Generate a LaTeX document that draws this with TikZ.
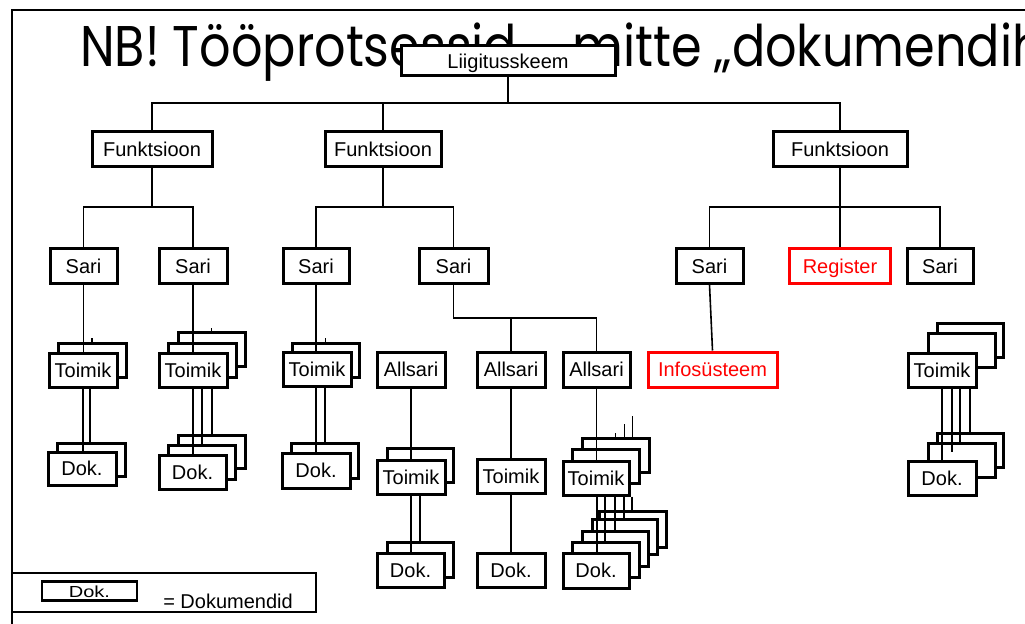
\documentclass[tikz,border=0pt]{standalone}
\usepackage{fontspec}
\usepackage{graphicx}
\setmainfont{Liberation Sans}
\newfontfamily\titlefont[FakeStretch=0.86]{Poppins}
\newlength{\px}\setlength{\px}{0.75pt}
\tikzset{
  bx/.style={draw=black, fill=white, line width=3\px, inner sep=0pt,
    font=\fontsize{15}{18}\selectfont, text height=10.7pt, text depth=0pt},
  rbx/.style={bx, draw=red, text=red},
  ln/.style={line width=1.6\px, draw=black},
  ttl/.style={anchor=base west, inner sep=0pt, font=\titlefont\fontsize{43}{50}\selectfont},
}
\newcommand\bx[6]{\node[bx, minimum width=#4\px, minimum height=#5\px] (#1) at (#2,#3) {#6};}
\newcommand\rx[6]{\node[rbx, minimum width=#4\px, minimum height=#5\px] (#1) at (#2,#3) {#6};}
\begin{document}
\begin{tikzpicture}[x=0.75pt,y=-0.75pt]
\useasboundingbox (0,0) rectangle (1025,624);
\clip (0,0) rectangle (1025,624);
% slide frame and title
\draw[line width=2\px] (12,624) -- (12,10) -- (1025,10);
\node[ttl] (title1) at (80,67) {NB! Tööprotsessid,};
\node[ttl] (title2) at (572,67) {mitte „dokumendihaldus”};
% legend
\draw[line width=1.5\px] (12,573) rectangle (316,612);
\node[bx, line width=2.6\px, minimum width=95\px, minimum height=19\px, text height=9.6pt] (leg) at (89.5,591) {\scalebox{1}[0.8]{Dok.}};
\node[anchor=base west, inner sep=0pt, font=\fontsize{15}{18}\selectfont] (legt) at (163,608) {= Dokumendid};
% top levels
\bx{liig}{508}{61}{214}{30}{Liigitusskeem}
\bx{f1}{152}{149.5}{120}{35}{Funktsioon}
\bx{f2}{383}{149.5}{116}{35}{Funktsioon}
\bx{f3}{840}{149.5}{134}{35}{Funktsioon}
\bx{s1}{83.5}{266}{67}{34}{Sari}
\bx{s2}{193}{266}{68}{34}{Sari}
\bx{s3}{316}{266}{66}{34}{Sari}
\bx{s4}{453.5}{266}{69}{34}{Sari}
\bx{s5}{709.5}{266}{67}{34}{Sari}
\rx{reg}{840}{266}{101}{34}{Register}
\bx{s6}{940}{266}{66}{34}{Sari}
\bx{a1}{411}{369.5}{68}{35}{Allsari}
\bx{a2}{511}{369.5}{68}{35}{Allsari}
\bx{a3}{596.5}{369.5}{67}{35}{Allsari}
\rx{info}{712.5}{369.5}{129}{35}{Infosüsteem}
% Toimik stacks
\bx{tA1}{92}{360.5}{68}{34}{}
\bx{tA0}{83}{370}{68}{34}{Toimik}
\bx{tB2}{211.5}{349.5}{67}{34}{}
\bx{tB1}{202}{360.5}{68}{34}{}
\bx{tB0}{193}{370}{68}{34}{Toimik}
\bx{tC1}{325.5}{360}{67}{34}{}
\bx{tC0}{317}{369.5}{68}{34}{Toimik}
\bx{tF2}{970}{340.5}{66}{34}{}
\bx{tF1}{961.5}{350.5}{67}{34}{}
\bx{tF0}{942}{370}{68}{34}{Toimik}
\bx{tD1}{420}{465.5}{66}{34}{}
\bx{tD0}{411}{477}{68}{34}{Toimik}
\bx{tG}{511}{476.5}{68}{34}{Toimik}
\bx{tE2}{615.5}{455}{67}{34}{}
\bx{tE1}{605.5}{466}{67}{34}{}
\bx{tE0}{596}{478}{66}{34}{Toimik}
% Dok stacks
\bx{dA1}{91}{459.5}{68}{33}{}
\bx{dA0}{82}{468.5}{68}{33}{Dok.}
\bx{dB2}{211.5}{451.5}{67}{33}{}
\bx{dB1}{201.5}{462.5}{67}{34}{}
\bx{dB0}{192.5}{472.5}{67}{34}{Dok.}
\bx{dC1}{324.5}{461}{67}{35}{}
\bx{dC0}{316}{470.5}{68}{35}{Dok.}
\bx{dF2}{970}{450}{66}{34}{}
\bx{dF1}{961.5}{460}{67}{34}{}
\bx{dF0}{942}{478}{68}{34}{Dok.}
\bx{dD1}{420}{559.5}{66}{35}{}
\bx{dD0}{410.5}{570}{67}{34}{Dok.}
\bx{dG}{511}{570}{68}{34}{Dok.}
\bx{dE4}{632.5}{529}{67}{36}{}
\bx{dE3}{624.5}{536.5}{65}{35}{}
\bx{dE2}{615}{548.5}{66}{35}{}
\bx{dE1}{605.5}{559.5}{67}{35}{}
\bx{dE0}{596}{570.5}{66}{35}{Dok.}
% connectors: upper tree
\coordinate (b1) at (508,103);
\draw[ln] (liig.south) -- (b1);
\draw[ln] (f1.north) |- (b1) -| (f3.north);
\draw[ln] (f2.north) -- (f2.north |- b1);
\coordinate (b2) at (152,207);
\draw[ln] (f1.south) -- (b2);
\draw[ln] (s1.north) |- (b2) -| (s2.north);
\coordinate (b3) at (383,207);
\draw[ln] (f2.south) -- (b3);
\draw[ln] (s3.north) |- (b3) -| (s4.north);
\coordinate (b4) at (840,207);
\draw[ln] (f3.south) -- (b4);
\draw[ln] (s5.north) |- (b4) -| (s6.north);
\draw[ln] (b4) -- (reg.north);
\coordinate (b5) at (511,318);
\draw[ln] (s4.south) |- (b5) -| (a3.north);
\draw[ln] (b5) -- (a2.north);
\draw[ln] (s5.south) -- (info.north);
% connectors to Toimik
\draw[ln] (s1.south) -- (s1.south |- tA0.north);
\draw[ln] (tA1.north) -- ++(0,-4);
\draw[ln] (s2.south) -- (s2.south |- tB0.north);
\draw[ln] (tB2.north) -- ++(0,-3);
\draw[ln] (s3.south) -- (s3.south |- tC0.north);
\draw[ln] (tC1.north) -- ++(0,-4);
\draw[ln] (a1.south) -- (a1.south |- tD0.north);
\draw[ln] (a2.south) -- (tG.north);
\draw[ln] (a3.south) -- (a3.south |- tE0.north);
\draw[ln] (tE2.north) -- ++(0,-4);
\draw[ln] ([xshift=9\px]tE2.north) -- ++(0,-13);
\draw[ln] ([xshift=17\px]tE2.north) -- ++(0,-21);
% connectors to Dok
\draw[ln] (tA0.south) -- (tA0.south |- dA0.north);
\draw[ln] ([xshift=7\px]tA0.south) -- ([xshift=7\px]tA0.south |- dA1.north);
\draw[ln] (tB0.south) -- (tB0.south |- dB0.north);
\draw[ln] ([xshift=9\px]tB0.south) -- ([xshift=9\px]tB0.south |- dB1.north);
\draw[ln] ([xshift=19\px]tB0.south) -- ([xshift=19\px]tB0.south |- dB2.north);
\draw[ln] ([xshift=-1\px]tC0.south) -- ([xshift=-1\px]tC0.south |- dC0.north);
\draw[ln] ([xshift=8\px]tC0.south) -- ([xshift=8\px]tC0.south |- dC1.north);
\draw[ln] (tD0.south) -- (tD0.south |- dD0.north);
\draw[ln] ([xshift=9\px]tD0.south) -- ([xshift=9\px]tD0.south |- dD1.north);
\draw[ln] (tG.south) -- (dG.north);
\draw[ln] ([xshift=1\px]tE0.south) -- ([xshift=1\px]tE0.south |- dE0.north);
\draw[ln] ([xshift=9\px]tE0.south) -- ([xshift=9\px]tE0.south |- dE1.north);
\draw[ln] ([xshift=19\px]tE0.south) -- ([xshift=19\px]tE0.south |- dE2.north);
\draw[ln] ([xshift=28\px]tE0.south) -- ([xshift=28\px]tE0.south |- dE3.north);
\draw[ln] ([xshift=36\px]tE0.south) -- ([xshift=36\px]tE0.south |- dE4.north);
\draw[ln] (tF0.south) -- (tF0.south |- dF0.north);
\draw[ln] ([xshift=10\px]tF0.south) -- ++(0,63);
\draw[ln] ([xshift=18\px]tF0.south) -- ++(0,53);
\draw[ln] ([xshift=28\px]tF0.south) -- ([xshift=28\px]tF0.south |- dF2.north);
\end{tikzpicture}
\end{document}
